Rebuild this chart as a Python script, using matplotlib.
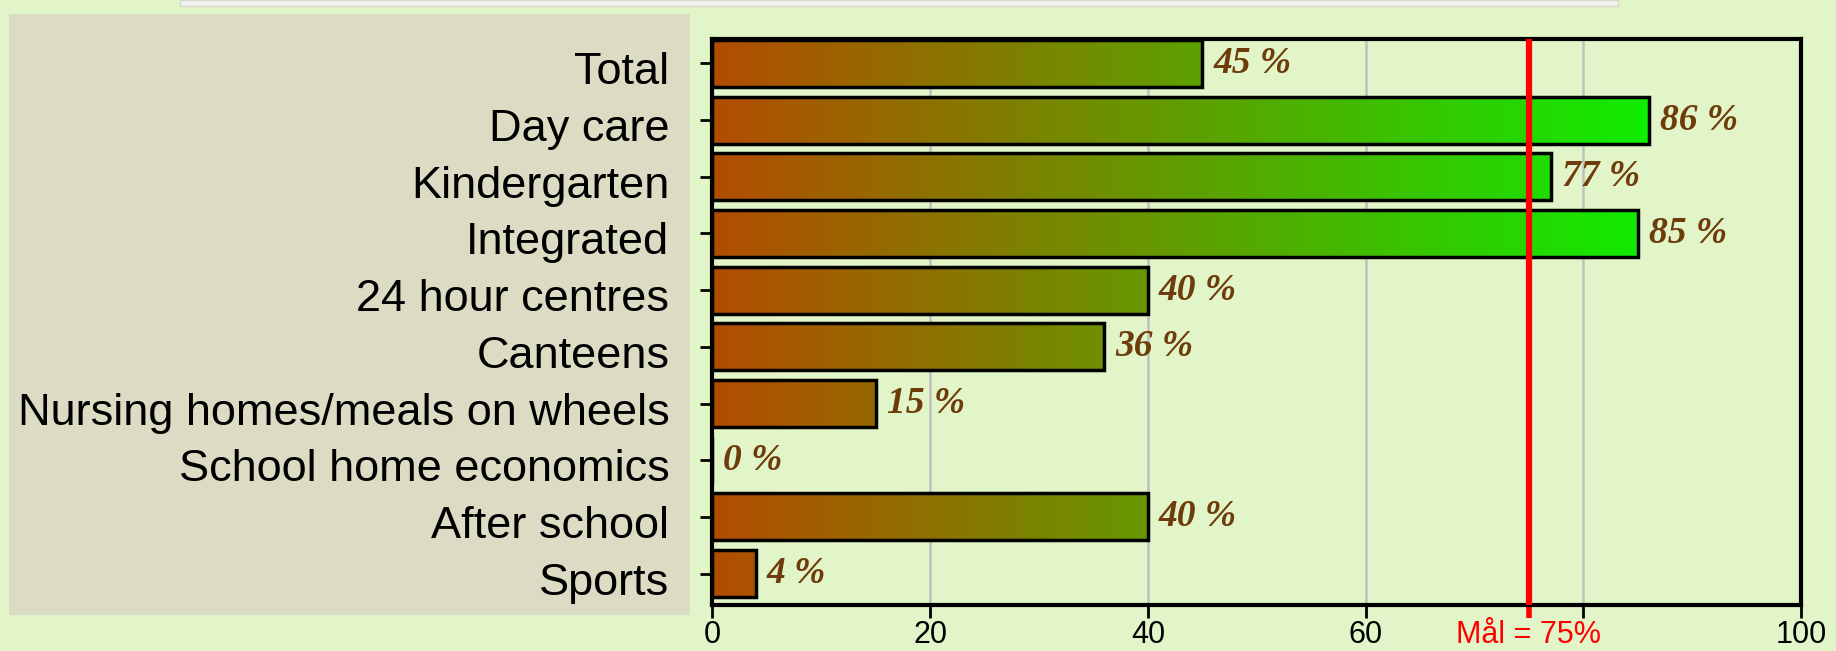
import numpy as np
import matplotlib.pyplot as plt
from matplotlib.patches import Rectangle
from matplotlib.transforms import ScaledTranslation
from matplotlib import font_manager

categories = ['Total', 'Day care', 'Kindergarten', 'Integrated', '24 hour centres', 'Canteens',
              'Nursing homes/meals on wheels', 'School home economics', 'After school', 'Sports']
values = [45, 86, 77, 85, 40, 36, 15, 0, 40, 4]
goal = 75
goal_label = 'Mål = 75%'
xticks = [0, 20, 40, 60, 80, 100]
xticklabels = ['0', '20', '40', '60', '', '100']

names = {f.name for f in font_manager.fontManager.ttflist}
narrow = 'Liberation Sans Narrow' if 'Liberation Sans Narrow' in names else 'Liberation Sans'

bg = '#e2f5c8'
fig = plt.figure(figsize=(18.36, 6.51), dpi=100, facecolor=bg)
# grey panel behind the category labels
fig.patches.append(Rectangle((0.005, 0.055), 0.371, 0.923, transform=fig.transFigure,
                             facecolor='#dcdcc4', edgecolor='none', zorder=-1))
# thin strip at the very top (cut off title area)
fig.patches.append(Rectangle((0.098, 0.991), 0.783, 0.009, transform=fig.transFigure,
                             facecolor='#f4f4ee', edgecolor='#d8d8d0', lw=1, zorder=-1))

ax = fig.add_axes([0.388, 0.071, 0.593, 0.869])
ax.set_facecolor(bg)

# gradient fill: brown-orange at 0 -> bright green at the largest value
c0 = np.array([0.70, 0.30, 0.0])
c1 = np.array([0.06, 0.93, 0.0])
vmax = max(values)
h = 0.83
ypos = np.arange(len(categories))
for i, v in enumerate(values):
    if v <= 0:
        continue
    t = np.linspace(0, v / vmax, 256)
    img = c0 + (c1 - c0) * t[:, None]
    ax.imshow(img[None, :, :], extent=[0, v, i + h / 2, i - h / 2], aspect='auto',
              interpolation='bilinear', zorder=2)
ax.barh(ypos, values, height=h, facecolor='none', edgecolor='black', linewidth=2.5, zorder=3)

for i, v in enumerate(values):
    ax.text(v + 1.0, i, f'{v} %', va='center', ha='left', fontsize=27,
            family='Liberation Serif', fontweight='bold', fontstyle='italic',
            color='#6e3c0a', zorder=5)

ax.axvline(goal, color='#ff0000', lw=4.5, zorder=4)

ax.set_xlim(0, 100)
ax.set_ylim(len(categories) - 1 + 0.55, -0.43)
ax.set_yticks(ypos)
ax.set_yticklabels(categories, fontsize=32.5, family='Liberation Sans')
ax.set_xticks(xticks)
ax.set_xticklabels(xticklabels, fontsize=22, family=narrow)
ax.set_xticks([goal], minor=True)
ax.set_xticklabels([goal_label], minor=True, fontsize=22, family=narrow, color='#ff0000')

ax.grid(axis='x', color='#c0c0c0', lw=1.8, zorder=1)
ax.set_axisbelow(True)
ax.tick_params(axis='x', which='major', direction='out', length=9, width=2, pad=2)
ax.tick_params(axis='x', which='minor', direction='out', length=9, width=4, color='#ff0000', pad=2)
ax.tick_params(axis='y', direction='out', length=9, width=2, pad=22)
for s in ax.spines.values():
    s.set_linewidth(3)
    s.set_color('black')

# category labels sit a little below their tick marks in the original
shift = ScaledTranslation(0, -5 / 100, fig.dpi_scale_trans)
for lab in ax.get_yticklabels():
    lab.set_transform(lab.get_transform() + shift)

fig.savefig('out.png', dpi=100, facecolor=bg)
